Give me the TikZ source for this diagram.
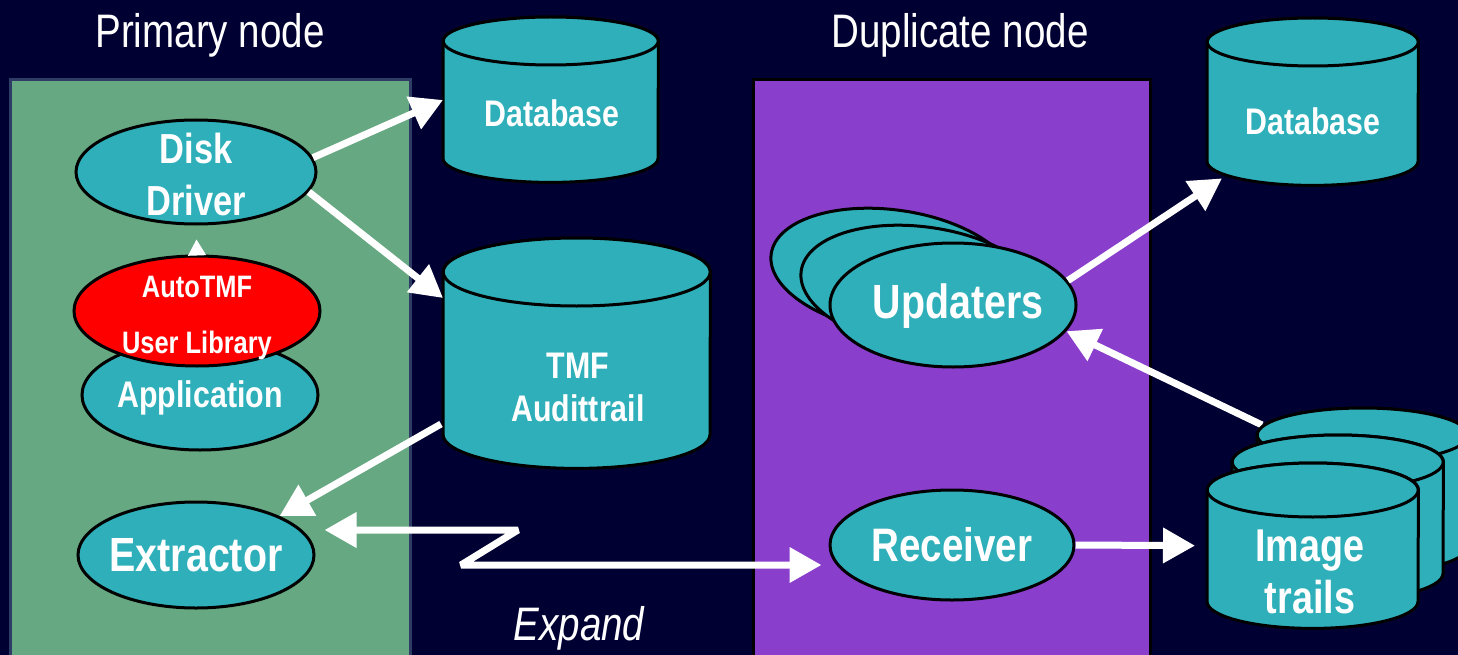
\documentclass[tikz,border=0pt]{standalone}
\usepackage{fontspec}
\setmainfont{Liberation Sans}[FakeStretch=0.82]
\usetikzlibrary{shapes.geometric,arrows.meta,calc}
\definecolor{bgc}{HTML}{000033}
\definecolor{greenc}{HTML}{66A882}
\definecolor{greenb}{HTML}{2F3D66}
\definecolor{purplec}{HTML}{8A3ECC}
\definecolor{tealc}{HTML}{2EAFBA}
\definecolor{redc}{HTML}{FF0000}
\newcommand\cylshape[6]{% name, left, top, width, height, ry
  \node[minimum width=#4, minimum height=#5, inner sep=0, anchor=north west] (#1) at (#2,#3) {};
  \draw[cylstyle] ($(#1.north west)+(0,#6)$) -- ($(#1.south west)+(0,-#6)$)
     arc[start angle=180, end angle=0, x radius=#4/2, y radius=#6]
     -- ($(#1.north east)+(0,#6)$)
     arc[start angle=0, end angle=-180, x radius=#4/2, y radius=#6] -- cycle;
  \draw[cylstyle] ($(#1.north)+(0,#6)$) ellipse[x radius=#4/2, y radius=#6];
}
\begin{document}
\begin{tikzpicture}[x=1pt,y=-1pt,
  ell/.style={ellipse, draw=black, line width=3, fill=tealc, inner sep=0},
  cylstyle/.style={draw=black, line width=3, fill=tealc, line join=round},
  arr/.style={draw=white, line width=7, line join=miter, -{Triangle[length=32pt,width=34pt]}},
  txt/.style={text=white, align=center, inner sep=0},
  title/.style={text=white, inner sep=0, anchor=base, font=\fontsize{47}{50}\selectfont}]
\fill[bgc] (0,0) rectangle (1458,655);
\useasboundingbox (0,0) rectangle (1458,655);
% boxes
\draw[fill=greenc, draw=greenb, line width=3] (10,80) rectangle (410,670);
\draw[fill=purplec, draw=black, line width=3] (753,80) rectangle (1150,670);
% titles
\node[title] (t1) at (210,48) {Primary node};
\node[title] (t2) at (960,48) {Duplicate node};
\node[title, font=\itshape\fontsize{47}{50}\selectfont] (exp) at (579,640) {Expand};
% primary node
\node[ell, minimum width=236, minimum height=110] (app) at (200,395) {};
\node[ell, fill=redc, minimum width=246, minimum height=110] (atmf) at (197,311) {};
\node[ell, minimum width=240, minimum height=104] (dd) at (196,172) {};
\node[ell, minimum width=236, minimum height=106] (ex) at (196,555) {};
\node[txt, font=\bfseries\fontsize{37}{40}\selectfont] (appt) at (200,398) {Application};
\node[txt, font=\bfseries\fontsize{31}{56}\selectfont] (atmft) at (197,318) {AutoTMF\\User Library};
\node[txt, font=\bfseries\fontsize{42}{52}\selectfont] (ddt) at (196,174) {Disk\\Driver};
\node[txt, font=\bfseries\fontsize{48}{50}\selectfont] (ext) at (196,555) {Extractor};
\draw[white, line width=1, shorten >=14pt, -{Triangle[length=16pt,width=18pt]}] (atmf.north) -- (dd.south);
% cylinders
\cylshape{db1}{443}{17}{215}{165}{24}
\cylshape{tmf}{443}{238}{267}{230}{34}
\cylshape{db2}{1207}{18}{211}{167}{24}
\node[txt, font=\bfseries\fontsize{37}{40}\selectfont] (db1t) at (552,113) {Database};
\node[txt, font=\bfseries\fontsize{37}{43}\selectfont] (tmft) at (578,387) {TMF\\Audittrail};
\node[txt, font=\bfseries\fontsize{37}{40}\selectfont] (db2t) at (1313,121) {Database};
% duplicate node
\node[ell, rotate=-8, minimum width=246, minimum height=122] (up3) at (893,271) {};
\node[ell, rotate=-8, minimum width=246, minimum height=122] (up2) at (923,288) {};
\node[ell, minimum width=246, minimum height=124] (up) at (953,305) {};
\node[txt, font=\bfseries\fontsize{48}{50}\selectfont] (upt) at (958,306) {Updaters};
\node[ell, minimum width=244, minimum height=110] (rc) at (952,545) {};
\node[txt, font=\bfseries\fontsize{47}{50}\selectfont] (rct) at (952,545) {Receiver};
% arrow behind image trails
\node[minimum width=211, minimum height=165, inner sep=0, anchor=north west] (it3) at (1257,408) {};
\draw[arr] ($(it3.north west)+(5,17)$) -- (up.-13);
% image trails stack
\cylshape{it3b}{1257}{408}{211}{165}{27}
\cylshape{it2}{1232}{435}{211}{165}{27}
\cylshape{it1}{1207}{463}{211}{165}{27}
\node[txt, font=\bfseries\fontsize{46}{52}\selectfont] (itt) at (1310,572) {Image\\trails};
% arrows
\draw[arr] (dd.7) -- ($(db1.north west)+(0,83)$);
\draw[arr] (dd.-10) -- ($(tmf.north west)+(0,60)$);
\draw[arr] ($(tmf.north west)+(-2,186)$) -- (ex.25);
\coordinate (z1) at (518,530);
\coordinate (z2) at (461,565);
\draw[arr, line join=bevel, {Triangle[length=32pt,width=34pt]}-{Triangle[length=32pt,width=34pt]}] ($(ex.east)+(9,-25)$) -- (z1) -- (z2) -- ($(rc.west)+(-7,20)$);
\draw[arr] (up.12) -- ($(db2.south west)+(15,-7)$);
\draw[arr, shorten >=12pt] (rc.east) -- (it1.west);
\end{tikzpicture}
\end{document}
